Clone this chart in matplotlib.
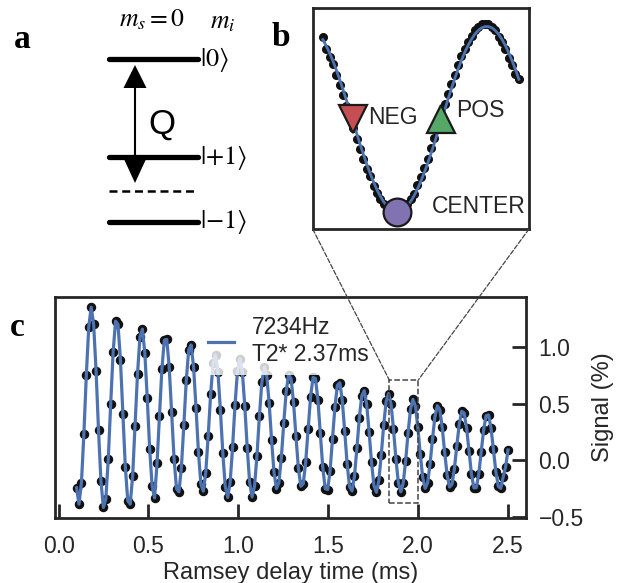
import numpy as np
import matplotlib
matplotlib.use("Agg")
import matplotlib.pyplot as plt
from matplotlib.patches import Rectangle, ConnectionPatch

# Ramsey fringe, 178 delays from 0.1 to 2.5 ms
delay_ms = np.linspace(0.1, 2.5, 178)
signal = [
    -0.244, -0.388, -0.200, 0.232, 0.750, 1.177, 1.350, 1.200, 0.788, 0.267,
    -0.185, -0.417, -0.342, 0.009, 0.497, 0.956, 1.227, 1.198, 0.883, 0.412,
    -0.059, -0.359, -0.388, -0.139, 0.303, 0.762, 1.088, 1.156, 0.947, 0.545,
    0.097, -0.229, -0.333, -0.029, 0.388, 0.803, 1.060, 1.066, 0.823, 0.424,
    0.014, -0.253, -0.279, -0.065, 0.308, 0.704, 0.973, 1.017, 0.823, 0.461,
    0.070, -0.211, -0.273, -0.109, 0.217, 0.582, 0.854, 0.929, 0.775, 0.445,
    0.062, -0.233, -0.329, -0.196, 0.114, 0.488, 0.785, 0.897, 0.781, 0.482,
    0.111, -0.196, -0.324, -0.231, 0.040, 0.389, 0.686, 0.822, 0.751, 0.506,
    0.179, -0.108, -0.251, -0.198, 0.022, 0.329, 0.608, 0.756, 0.719, 0.512,
    0.211, -0.070, -0.230, -0.208, -0.014, 0.277, 0.561, 0.730, 0.721, 0.534,
    0.236, -0.063, -0.251, -0.259, -0.093, 0.186, 0.473, 0.662, 0.683, 0.529,
    0.256, -0.034, -0.235, -0.271, -0.141, 0.105, 0.374, 0.568, 0.613, 0.494,
    0.253, -0.020, -0.224, -0.283, -0.179, 0.048, 0.312, 0.518, 0.588, 0.496,
    0.278, 0.014, -0.198, -0.279, -0.204, -0.006, 0.243, 0.449, 0.537, 0.477,
    0.292, 0.053, -0.152, -0.248, -0.202, -0.037, 0.184, 0.382, 0.481, 0.446,
    0.290, 0.072, -0.129, -0.237, -0.214, -0.075, 0.129, 0.320, 0.431, 0.417,
    0.284, 0.078, -0.122, -0.244, -0.242, -0.121, 0.073, 0.268, 0.393, 0.399,
    0.287, 0.098, -0.100, -0.231, -0.248, -0.149, -0.060, 0.090,
]
fit_label = "7234Hz\nT2* 2.37ms"

# fine scan around 1.9 ms (panel b)
zoom_ms = np.linspace(1.8475, 1.9925, 59)
zoom_signal = [
    0.565, 0.504, 0.466, 0.430, 0.378, 0.329, 0.278, 0.225, 0.165, 0.117,
    0.064, 0.012, -0.039, -0.086, -0.122, -0.169, -0.204, -0.234, -0.259, -0.277,
    -0.290, -0.296, -0.296, -0.289, -0.276, -0.257, -0.232, -0.208, -0.166, -0.126,
    -0.082, -0.035, 0.016, 0.068, 0.121, 0.175, 0.236, 0.282, 0.333, 0.376,
    0.427, 0.469, 0.507, 0.539, 0.567, 0.598, 0.616, 0.628, 0.631, 0.628,
    0.616, 0.598, 0.566, 0.538, 0.505, 0.462, 0.426, 0.380, 0.356,
]
zoom_fit = [
    0.552, 0.521, 0.486, 0.446, 0.401, 0.354, 0.304, 0.251, 0.198, 0.144,
    0.090, 0.037, -0.014, -0.063, -0.108, -0.150, -0.188, -0.220, -0.248, -0.269,
    -0.285, -0.294, -0.297, -0.294, -0.284, -0.268, -0.246, -0.218, -0.185, -0.147,
    -0.105, -0.059, -0.010, 0.041, 0.094, 0.148, 0.202, 0.256, 0.308, 0.358,
    0.405, 0.449, 0.489, 0.524, 0.554, 0.579, 0.597, 0.610, 0.616, 0.616,
    0.610, 0.597, 0.578, 0.553, 0.523, 0.487, 0.447, 0.404, 0.356,
]
zoom_x = (1.84, 2.0)
zoom_y = (-0.382, 0.706)

# operating points on the fringe
point_names = ["NEG", "CENTER", "POS"]
point_ms = [1.8696, 1.9024, 1.935]
point_signal = [0.159, -0.298, 0.159]
point_colors = ["#c44e52", "#8172b2", "#55a868"]
point_markers = ["v", "o", "^"]
point_text_offset = [(11, 1), (25, 4), (11, 6)]

# level scheme (panel a)
level_labels = [r"$|0\rangle$", r"$|{+}1\rangle$", r"$|{-}1\rangle$"]

plt.rcParams['font.family'] = ['Liberation Sans', 'DejaVu Sans']
plt.rcParams['mathtext.fontset'] = 'stix'

DARK = '#262626'
BLUE = '#4c72b0'

fig = plt.figure(figsize=(6.17, 5.83), dpi=100)

# overlay in pixel units for the level diagram and panel letters
ov = fig.add_axes([0, 0, 1, 1], zorder=0)
ov.set_xlim(0, 617)
ov.set_ylim(583, 0)
ov.axis('off')

level_y = [59, 157, 222]
for y, lab in zip(level_y, level_labels):
    ov.plot([109, 198], [y, y], color='black', lw=3.8, solid_capstyle='round')
    ov.text(200, y, lab, fontsize=19, ha='left', va='center')
ov.plot([109, 198], [191, 191], color='black', lw=1.8, ls=(0, (3.2, 1.9)))

# double arrow for Q
ov.plot([135, 135], [88, 157], color='black', lw=1.5)
ov.fill([135, 123.5, 146.5], [65, 88, 88], color='black', lw=0)
ov.fill([123, 147, 135], [157, 157, 183], color='black', lw=0)
ov.text(162, 124, "Q", fontsize=25, ha='center', va='center')
ov.text(152, 20, r"$m_s=0$", fontsize=18.5, ha='center', va='center')
ov.text(223, 22, r"$m_i$", fontsize=18.5, ha='center', va='center')

for lab, x, y in [("a", 22, 40), ("b", 281, 38), ("c", 17, 327)]:
    ov.text(x, y, lab, family='Liberation Serif', weight='bold', fontsize=24,
            ha='center', va='center')

# panel c
ax = fig.add_axes([55 / 617, 65 / 583, 471 / 617, 221 / 583], zorder=1)
ax.plot(delay_ms, signal, 'o', color='#111111', ms=5.8, zorder=2)
ax.plot(delay_ms, signal, '-', color=BLUE, lw=2.3, zorder=3, label=fit_label)
ax.set_xlim(-0.02, 2.6)
ax.set_ylim(-0.51, 1.44)
ax.set_xticks([0, 0.5, 1.0, 1.5, 2.0, 2.5])
ax.set_yticks([-0.5, 0.0, 0.5, 1.0])
ax.yaxis.tick_right()
ax.yaxis.set_label_position('right')
ax.tick_params(direction='in', length=10, width=2.0, color=DARK,
               labelsize=16.5, labelcolor=DARK)
ax.tick_params(axis='x', pad=12)
ax.tick_params(axis='y', pad=9, left=False, right=True)
for s in ax.spines.values():
    s.set_linewidth(2.0)
    s.set_color(DARK)
ax.set_xlabel("Ramsey delay time (ms)", fontsize=17, color=DARK, labelpad=3)
ax.set_ylabel("Signal (%)", fontsize=17, color=DARK, labelpad=6)

leg = ax.legend(loc='upper left', bbox_to_anchor=(0.306, 0.955), borderaxespad=0,
                fontsize=16.5, handlelength=1.1, handletextpad=0.8, borderpad=0.4,
                frameon=True, framealpha=0.8, facecolor='white', edgecolor='none',
                fancybox=False)
leg.set_zorder(5)
for t in leg.get_texts():
    t.set_color(DARK)

ax.add_patch(Rectangle((zoom_x[0], zoom_y[0]), zoom_x[1] - zoom_x[0],
                       zoom_y[1] - zoom_y[0], fill=False, ls='--', lw=1.1,
                       ec='#444444', zorder=6))

# panel b inset
axin = fig.add_axes([312.7 / 617, 354 / 583, 216.3 / 617, 220.7 / 583], zorder=2)
axin.plot(zoom_ms, zoom_signal, 'o', color='#111111', ms=5.5, zorder=2)
axin.plot(zoom_ms, zoom_fit, '-', color=BLUE, lw=2.0, zorder=3)
for name, t, v, c, m, off in zip(point_names, point_ms, point_signal,
                                 point_colors, point_markers, point_text_offset):
    axin.plot(t, v, m, ms=20, mfc=c, mec='#1a1a1a', mew=1.6, zorder=5)
    axin.annotate(name, (t, v), xytext=off, textcoords='offset points',
                  fontsize=16.5, color=DARK, ha='left', va='center', zorder=6)
axin.set_xlim(zoom_x)
axin.set_ylim(zoom_y)
axin.set_xticks([])
axin.set_yticks([])
for s in axin.spines.values():
    s.set_linewidth(2.0)
    s.set_color(DARK)

for xa, xb in [(0, zoom_x[0]), (1, zoom_x[1])]:
    con = ConnectionPatch(xyA=(xa, 0), coordsA=axin.transAxes,
                          xyB=(xb, zoom_y[1]), coordsB=ax.transData,
                          ls='--', lw=0.9, color='#444444', zorder=3)
    fig.add_artist(con)

fig.savefig("out.png", dpi=100)
